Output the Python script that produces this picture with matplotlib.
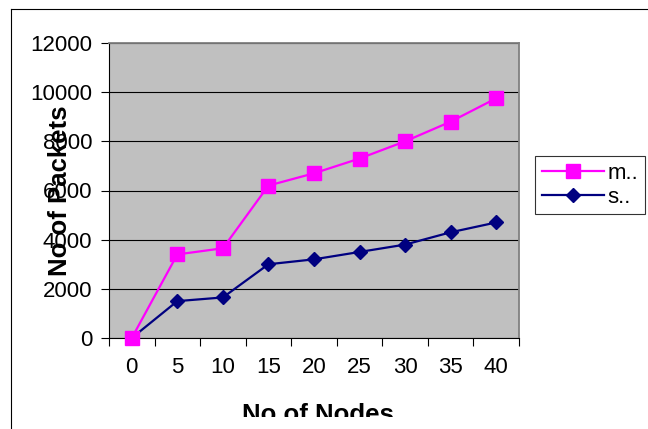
import matplotlib
matplotlib.use("Agg")
import matplotlib.pyplot as plt
from matplotlib.lines import Line2D
from matplotlib.transforms import Bbox, TransformedBbox
import numpy as np

nodes = ["0", "5", "10", "15", "20", "25", "30", "35", "40"]
series_m = [0, 3400, 3650, 6200, 6700, 7300, 8000, 8800, 9750]
series_s = [0, 1500, 1650, 3000, 3200, 3500, 3800, 4300, 4700]
legend_labels = ["m..", "s.."]
y_ticks = [0, 2000, 4000, 6000, 8000, 10000, 12000]

plt.rcParams['font.family'] = ['Liberation Sans', 'DejaVu Sans']

fig = plt.figure(figsize=(6.48, 4.29), dpi=100)
ax = fig.add_axes([109/648, 1 - 338/429, 410/648, 295/429])
ax.set_facecolor('#C0C0C0')

x = np.arange(len(nodes)) + 0.5
ax.plot(x, series_m, color='#FF00FF', lw=1.6, marker='s', ms=10.5,
        mec='#FF00FF', mfc='#FF00FF', label=legend_labels[0], zorder=4, clip_on=False)
ax.plot(x, series_s, color='#000080', lw=1.6, marker='D', ms=7.2,
        mec='#000080', mfc='#000080', label=legend_labels[1], zorder=3, clip_on=False)

ax.set_xlim(0, len(nodes))
ax.set_ylim(0, 12000)
ax.set_yticks(y_ticks)
ax.set_yticklabels([str(v) for v in y_ticks])
ax.yaxis.grid(True, color='black', lw=0.8)
ax.set_axisbelow(True)

ax.set_xticks(np.arange(len(nodes) + 1))
ax.set_xticklabels([])
ax.set_xticks(x, minor=True)
ax.set_xticklabels(nodes, minor=True)
ax.tick_params(axis='x', which='major', length=6, width=0.8, color='black', direction='out')
ax.tick_params(axis='x', which='minor', length=0, pad=14, labelsize=16)
ax.tick_params(axis='y', length=6, width=0.8, color='black', direction='out', pad=6, labelsize=16)

for s in ax.spines.values():
    s.set_color('#808080')
    s.set_linewidth(1.3)
ax.spines['left'].set_color('black')
ax.spines['left'].set_linewidth(0.8)
ax.spines['bottom'].set_color('black')
ax.spines['bottom'].set_linewidth(0.8)

ax.set_ylabel("No of Packets", fontsize=18.5, fontweight='bold')
ax.yaxis.set_label_coords(-0.09, 0.5)
ax.set_xlabel("No of Nodes", fontsize=18.5, fontweight='bold')
ax.xaxis.set_label_coords(0.51, -0.222)
clip = TransformedBbox(Bbox([[0, 12/429], [1, 1]]), fig.transFigure)
ax.xaxis.label.set_clip_box(clip)
ax.xaxis.label.set_clip_on(True)

leg = fig.legend(loc='center left', bbox_to_anchor=(535/648, 1 - 185.5/429),
                 fontsize=16, frameon=True, fancybox=False, handlelength=2.8,
                 borderpad=0.3, labelspacing=0.12, handletextpad=0.15,
                 borderaxespad=0)
leg.get_frame().set_edgecolor('black')
leg.get_frame().set_linewidth(0.8)

fig.add_artist(Line2D([11/648, 1], [1 - 9/429, 1 - 9/429], color='black', lw=0.8,
                      transform=fig.transFigure))
fig.add_artist(Line2D([11/648, 11/648], [0, 1 - 9/429], color='black', lw=0.8,
                      transform=fig.transFigure))

fig.savefig("out.png", dpi=100)
